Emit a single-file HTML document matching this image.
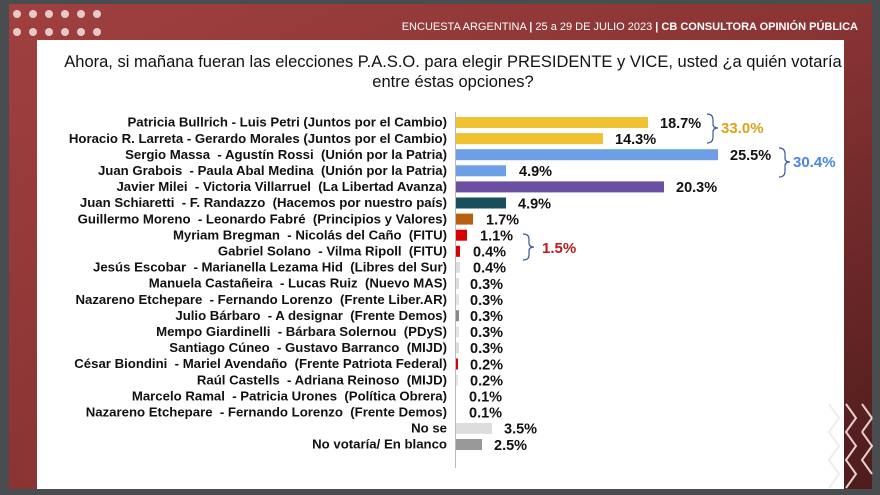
<!DOCTYPE html>
<html><head><meta charset="utf-8"><style>
html,body{margin:0;padding:0;background:#4a4d50;}
svg{display:block;font-family:"Liberation Sans",Arial,sans-serif;}
text{white-space:pre;}
</style></head><body>
<svg width="880" height="495" viewBox="0 0 880 495" xml:space="preserve">
<defs><linearGradient id="g" x1="0" y1="0" x2="1" y2="1"><stop offset="0" stop-color="#a0403f"/><stop offset="0.5" stop-color="#8a3434"/><stop offset="1" stop-color="#4e1c1c"/></linearGradient></defs>
<rect x="0" y="0" width="880" height="495" fill="#4a4d50"/>
<rect x="9" y="4" width="863" height="485" fill="url(#g)"/>
<g fill="#e8c9c9">
<circle cx="17" cy="14" r="4"/><circle cx="33" cy="14" r="4"/><circle cx="49" cy="14" r="4"/><circle cx="65" cy="14" r="4"/><circle cx="81" cy="14" r="4"/><circle cx="97" cy="14" r="4"/>
<circle cx="17" cy="32" r="4"/><circle cx="33" cy="32" r="4"/><circle cx="49" cy="32" r="4"/><circle cx="65" cy="32" r="4"/><circle cx="81" cy="32" r="4"/><circle cx="97" cy="32" r="4"/>
</g>
<text x="858" y="30" fill="#fff" font-size="11" text-anchor="end">ENCUESTA ARGENTINA <tspan font-weight="bold">|</tspan> 25 a 29 DE JULIO 2023 <tspan font-weight="bold">| CB CONSULTORA OPINIÓN PÚBLICA</tspan></text>
<rect x="37" y="40" width="807" height="449" fill="#fff"/>
<g fill="none" stroke="#e6d0d0" stroke-width="2">
<polyline points="846,404 856,418 846,432 856,446 846,460 856,474 846,488"/>
<polyline points="862,404 872,418"/>
<polyline points="862,432 872,418"/>
<polyline points="862,432 872,446 862,460 872,474"/>
</g>
<g fill="none" stroke="#eeeeee" stroke-width="2">
<polyline points="829,404 839,418 829,432 839,446 829,460 839,474 829,488"/>
</g>
<text x="453" y="67" font-size="16.5" fill="#111" text-anchor="middle">Ahora, si mañana fueran las elecciones P.A.S.O. para elegir PRESIDENTE y VICE, usted ¿a quién votaría</text>
<text x="453" y="87" font-size="16.5" fill="#111" text-anchor="middle">entre éstas opciones?</text>
<line x1="455.5" y1="112" x2="455.5" y2="468" stroke="#bbb" stroke-width="1"/>
<g font-size="13.2" font-weight="bold" fill="#111" text-anchor="end">
<text x="447" y="126.7">Patricia Bullrich - Luis Petri (Juntos por el Cambio)</text>
<text x="447" y="142.8">Horacio R. Larreta - Gerardo Morales (Juntos por el Cambio)</text>
<text x="447" y="158.9">Sergio Massa  - Agustín Rossi  (Unión por la Patria)</text>
<text x="447" y="175">Juan Grabois  - Paula Abal Medina  (Unión por la Patria)</text>
<text x="447" y="191.1">Javier Milei  - Victoria Villarruel  (La Libertad Avanza)</text>
<text x="447" y="207.2">Juan Schiaretti  - F. Randazzo  (Hacemos por nuestro país)</text>
<text x="447" y="223.3">Guillermo Moreno  - Leonardo Fabré  (Principios y Valores)</text>
<text x="447" y="239.4">Myriam Bregman  - Nicolás del Caño  (FITU)</text>
<text x="447" y="255.5">Gabriel Solano  - Vilma Ripoll  (FITU)</text>
<text x="447" y="271.6">Jesús Escobar  - Marianella Lezama Hid  (Libres del Sur)</text>
<text x="447" y="287.7">Manuela Castañeira  - Lucas Ruiz  (Nuevo MAS)</text>
<text x="447" y="303.8">Nazareno Etchepare  - Fernando Lorenzo  (Frente Liber.AR)</text>
<text x="447" y="319.9">Julio Bárbaro  - A designar  (Frente Demos)</text>
<text x="447" y="336">Mempo Giardinelli  - Bárbara Solernou  (PDyS)</text>
<text x="447" y="352.1">Santiago Cúneo  - Gustavo Barranco  (MIJD)</text>
<text x="447" y="368.2">César Biondini  - Mariel Avendaño  (Frente Patriota Federal)</text>
<text x="447" y="384.3">Raúl Castells  - Adriana Reinoso  (MIJD)</text>
<text x="447" y="400.4">Marcelo Ramal  - Patricia Urones  (Política Obrera)</text>
<text x="447" y="416.5">Nazareno Etchepare  - Fernando Lorenzo  (Frente Demos)</text>
<text x="447" y="432.6">No se</text>
<text x="447" y="448.7">No votaría/ En blanco</text>
</g>
<g>
<rect x="456" y="117" width="192" height="11" fill="#f0c232"/>
<rect x="456" y="133.1" width="147" height="11" fill="#f0c232"/>
<rect x="456" y="149.2" width="262" height="11" fill="#6d9fe6"/>
<rect x="456" y="165.3" width="50" height="11" fill="#6d9fe6"/>
<rect x="456" y="181.4" width="208" height="11" fill="#6a4fa3"/>
<rect x="456" y="197.5" width="50" height="11" fill="#174f5a"/>
<rect x="456" y="213.6" width="17" height="11" fill="#b8600f"/>
<rect x="456" y="229.7" width="11" height="11" fill="#d80000"/>
<rect x="456" y="245.8" width="4" height="11" fill="#d80000"/>
<rect x="456" y="261.9" width="4" height="11" fill="#ddd"/>
<rect x="456" y="278" width="3" height="11" fill="#ddd"/>
<rect x="456" y="294.1" width="3" height="11" fill="#e5e5e5"/>
<rect x="456" y="310.2" width="3" height="11" fill="#888"/>
<rect x="456" y="326.3" width="3" height="11" fill="#e5e5e5"/>
<rect x="456" y="342.4" width="3" height="11" fill="#ddd"/>
<rect x="456" y="358.5" width="2" height="11" fill="#d80000"/>
<rect x="456" y="374.6" width="2" height="11" fill="#e5e5e5"/>
<rect x="456" y="422.9" width="36" height="11" fill="#ddd"/>
<rect x="456" y="439" width="26" height="11" fill="#999"/>
</g>
<g font-size="14.5" font-weight="bold" fill="#111">
<text x="660" y="127.8">18.7%</text>
<text x="615" y="143.9">14.3%</text>
<text x="730" y="160">25.5%</text>
<text x="519" y="176.1">4.9%</text>
<text x="676" y="192.2">20.3%</text>
<text x="518" y="208.3">4.9%</text>
<text x="486" y="224.4">1.7%</text>
<text x="480" y="240.5">1.1%</text>
<text x="473" y="256.6">0.4%</text>
<text x="473" y="272.7">0.4%</text>
<text x="470" y="288.8">0.3%</text>
<text x="470" y="304.9">0.3%</text>
<text x="470" y="321">0.3%</text>
<text x="470" y="337.1">0.3%</text>
<text x="470" y="353.2">0.3%</text>
<text x="470" y="369.3">0.2%</text>
<text x="470" y="385.4">0.2%</text>
<text x="469" y="401.5">0.1%</text>
<text x="469" y="417.6">0.1%</text>
<text x="504" y="433.7">3.5%</text>
<text x="494" y="449.8">2.5%</text>
</g>
<g fill="none" stroke="#3a5a9a" stroke-width="1.2">
<path d="M707,114 q6,0 6,6 v4 q0,4 5,4 q-5,0 -5,4 v5 q0,6 -6,6"/>
<path d="M779,148 q6,0 6,6 v4 q0,4 5,4 q-5,0 -5,4 v5 q0,6 -6,6"/>
<path d="M523,234 q6,0 6,5 v4 q0,4 5,4 q-5,0 -5,4 v4 q0,5 -6,5"/>
</g>
<g font-size="15" font-weight="bold">
<text x="721" y="133" fill="#d9a418">33.0%</text>
<text x="793" y="167" fill="#4a86e0">30.4%</text>
<text x="542" y="253" fill="#b81c1c">1.5%</text>
</g>
</svg>
</body></html>
